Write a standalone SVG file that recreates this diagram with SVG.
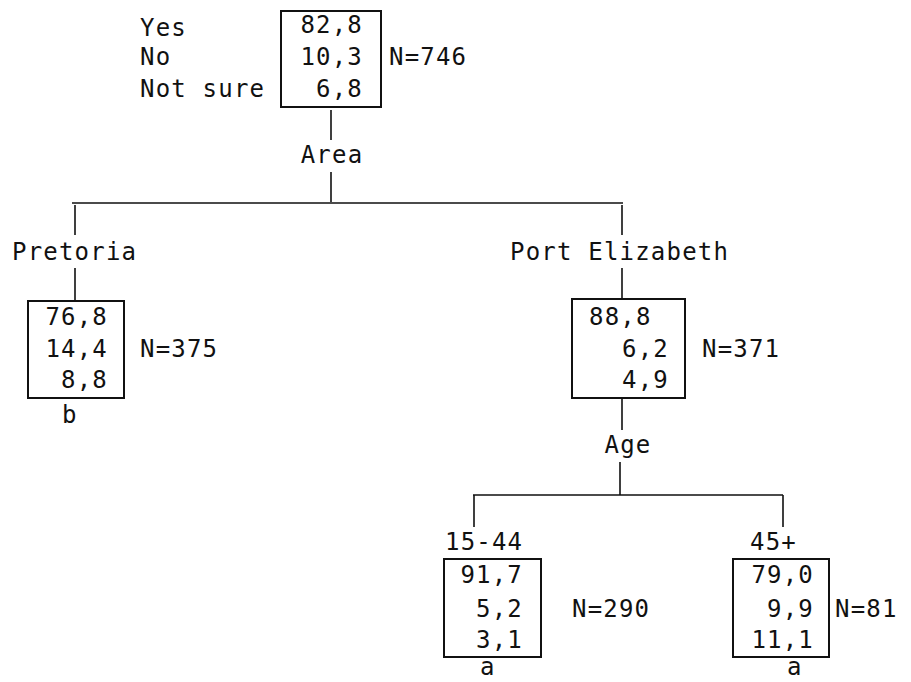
<svg xmlns="http://www.w3.org/2000/svg" width="911" height="682" viewBox="0 0 911 682">
<style>
text{font-family:"DejaVu Sans Mono","Liberation Mono",monospace;font-size:24px;fill:#111;letter-spacing:1.2px}
.r{text-anchor:end}
.c{text-anchor:middle}
.box{fill:none;stroke:#111;stroke-width:2}
.ln{fill:none;stroke:#111;stroke-width:1.6}
</style>
<rect width="911" height="682" fill="#fff"/>
<g id="connectors">
<path class="ln" d="M331,110V140M331,172V202M72,203H623M75,205V235M75,268V300M622,205V235M622,268V300M622,398V430M620,462V495M473,495H783M474,495V527M783,495V527"/>
</g>
<g id="root">
<text x="140" y="36">Yes</text>
<text x="140" y="65">No</text>
<text x="140" y="97">Not sure</text>
<rect class="box" x="281" y="11" width="100" height="96"/>
<text class="r" x="363" y="33">82,8</text>
<text class="r" x="363" y="65">10,3</text>
<text class="r" x="363" y="97">6,8</text>
<text x="389" y="65">N=746</text>
</g>
<g id="area"><text class="c" x="332" y="163">Area</text></g>
<g id="pretoria">
<text x="12" y="260">Pretoria</text>
<rect class="box" x="28" y="301" width="96" height="97"/>
<text class="r" x="108" y="325">76,8</text>
<text class="r" x="108" y="357">14,4</text>
<text class="r" x="108" y="388">8,8</text>
<text x="140" y="357">N=375</text>
<text x="62" y="423">b</text>
</g>
<g id="port-elizabeth">
<text x="510" y="260">Port Elizabeth</text>
<rect class="box" x="572" y="299" width="113" height="99"/>
<text x="589" y="325">88,8</text>
<text class="r" x="669" y="357">6,2</text>
<text class="r" x="669" y="388">4,9</text>
<text x="702" y="357">N=371</text>
</g>
<g id="age"><text class="c" x="628" y="453">Age</text></g>
<g id="age-15-44">
<text x="445" y="550">15-44</text>
<rect class="box" x="444" y="559" width="97" height="98"/>
<text class="r" x="523" y="583">91,7</text>
<text class="r" x="523" y="617">5,2</text>
<text class="r" x="523" y="648">3,1</text>
<text x="572" y="617">N=290</text>
<text x="480" y="675">a</text>
</g>
<g id="age-45plus">
<text x="750" y="550">45+</text>
<rect class="box" x="733" y="559" width="96" height="98"/>
<text class="r" x="814" y="583">79,0</text>
<text class="r" x="814" y="617">9,9</text>
<text class="r" x="814" y="648">11,1</text>
<text x="835" y="617">N=81</text>
<text x="787" y="675">a</text>
</g>
</svg>
